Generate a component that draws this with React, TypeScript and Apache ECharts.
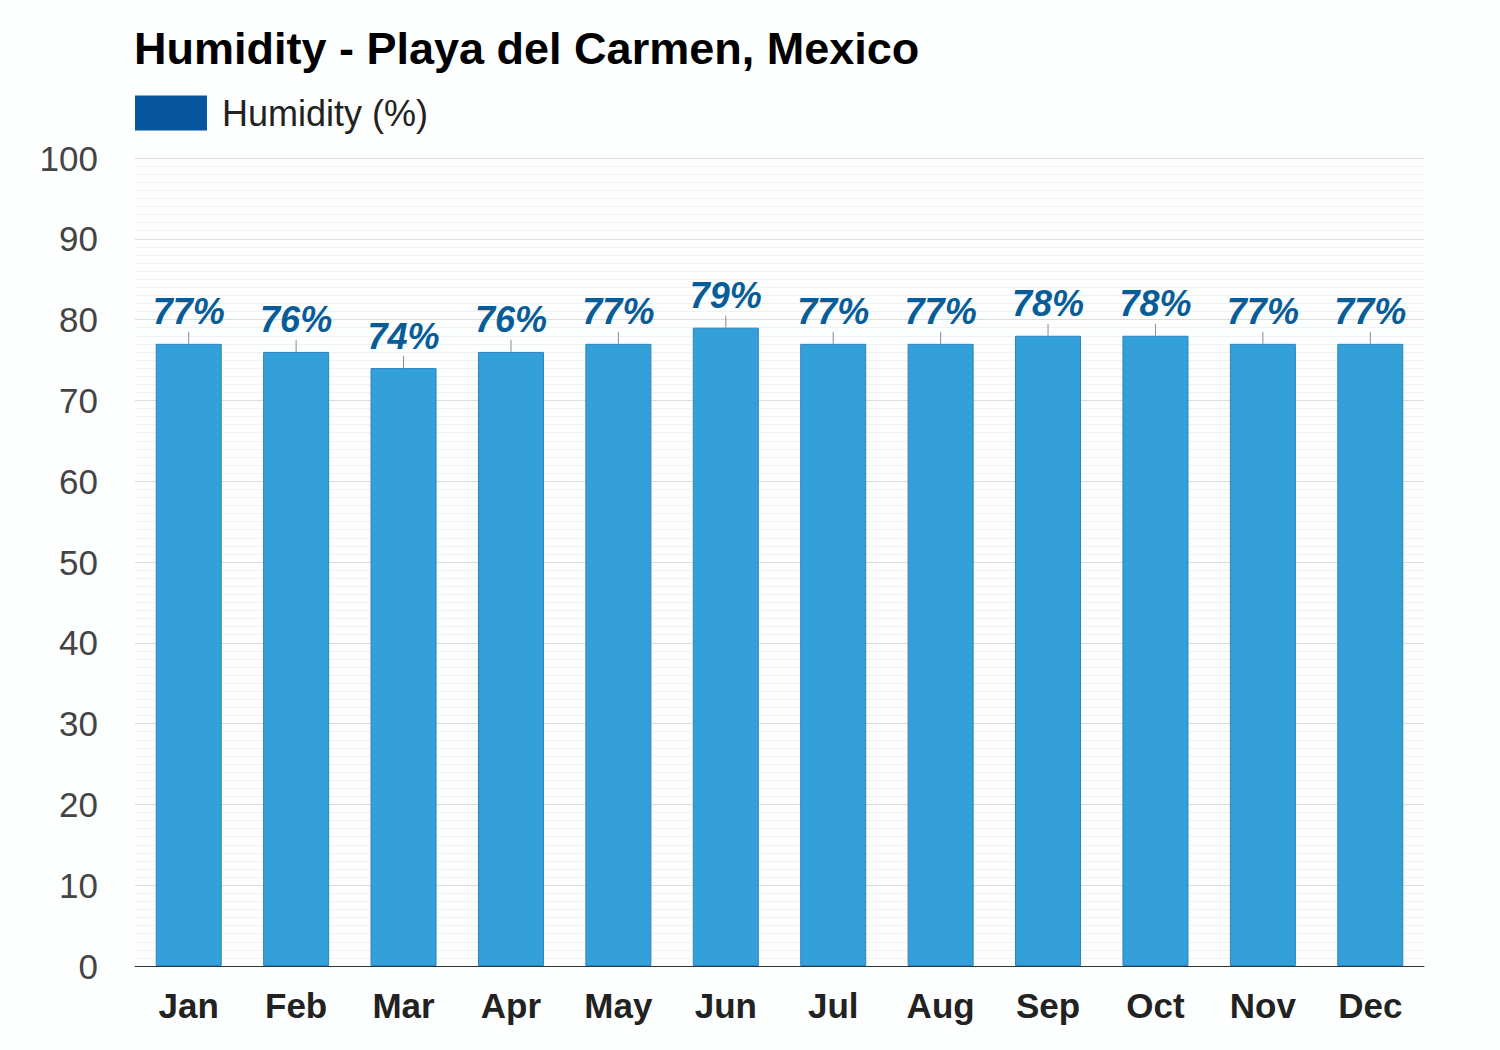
import React, { useEffect, useRef } from "react";
import * as echarts from "echarts";

const months = ["Jan", "Feb", "Mar", "Apr", "May", "Jun", "Jul", "Aug", "Sep", "Oct", "Nov", "Dec"];
const humidity = [77, 76, 74, 76, 77, 79, 77, 77, 78, 78, 77, 77];
const seriesName = "Humidity (%)";
const titleText = "Humidity - Playa del Carmen, Mexico";

const FONT = "'Liberation Sans', Arial, sans-serif";

export default function App() {
  const ref = useRef<HTMLDivElement>(null);
  useEffect(() => {
    document.body.style.margin = "0";
    document.body.style.background = "#fdfefe";
    const chart = echarts.init(ref.current!, null, { renderer: "svg" });
    chart.setOption({
      animation: false,
      backgroundColor: "#fdfefe",
      textStyle: { fontFamily: FONT },
      title: {
        text: titleText,
        left: 134,
        top: 26,
        padding: 0,
        textStyle: { fontSize: 45, fontWeight: "bold", color: "#000", fontFamily: FONT },
      },
      legend: {
        left: 135,
        top: 95,
        padding: 0,
        icon: "rect",
        itemWidth: 72,
        itemHeight: 35,
        itemGap: 10,
        textStyle: { fontSize: 36, color: "#222", fontFamily: FONT, padding: [0, 0, 0, 10] },
        data: [{ name: seriesName, itemStyle: { color: "#06559d", borderWidth: 0 } }],
      },
      grid: { left: 135, right: 76, top: 158, bottom: 84, containLabel: false },
      xAxis: {
        type: "category",
        data: months,
        axisLine: { lineStyle: { color: "#333", width: 1 } },
        axisTick: { show: false },
        axisLabel: { fontSize: 35, fontWeight: "bold", color: "#222", margin: 22, fontFamily: FONT },
        splitLine: { show: false },
      },
      yAxis: {
        type: "value",
        min: 0,
        max: 100,
        interval: 10,
        axisLine: { show: false },
        axisTick: { show: false },
        axisLabel: { fontSize: 35, color: "#444", margin: 37, fontFamily: FONT },
        splitLine: { show: true, lineStyle: { color: "#dcdcdc", width: 1 } },
        minorTick: { show: false, splitNumber: 10 },
        minorSplitLine: { show: true, lineStyle: { color: "#f1f1f3", width: 1 } },
      },
      series: [
        {
          name: seriesName,
          type: "bar",
          data: humidity,
          barWidth: 66,
          itemStyle: { color: "#33a0da", borderColor: "#2c83bd", borderWidth: 1 },
          label: {
            show: true,
            position: "top",
            distance: 14,
            formatter: "{c}%",
            fontSize: 36,
            fontWeight: "bold",
            fontStyle: "italic",
            color: "#085d98",
            fontFamily: FONT,
          },
          z: 2,
        },
        {
          name: "leader",
          type: "custom",
          data: humidity.map((v, i) => [i, v]),
          silent: true,
          z: 3,
          renderItem: (params: any, api: any) => {
            const p = api.coord([api.value(0), api.value(1)]);
            return {
              type: "line",
              shape: { x1: p[0], y1: p[1], x2: p[0], y2: p[1] - 12 },
              style: { stroke: "#8a8a8a", lineWidth: 1 },
            };
          },
        },
      ],
    });
    return () => chart.dispose();
  }, []);
  return <div ref={ref} style={{ width: 1500, height: 1050 }} />;
}
